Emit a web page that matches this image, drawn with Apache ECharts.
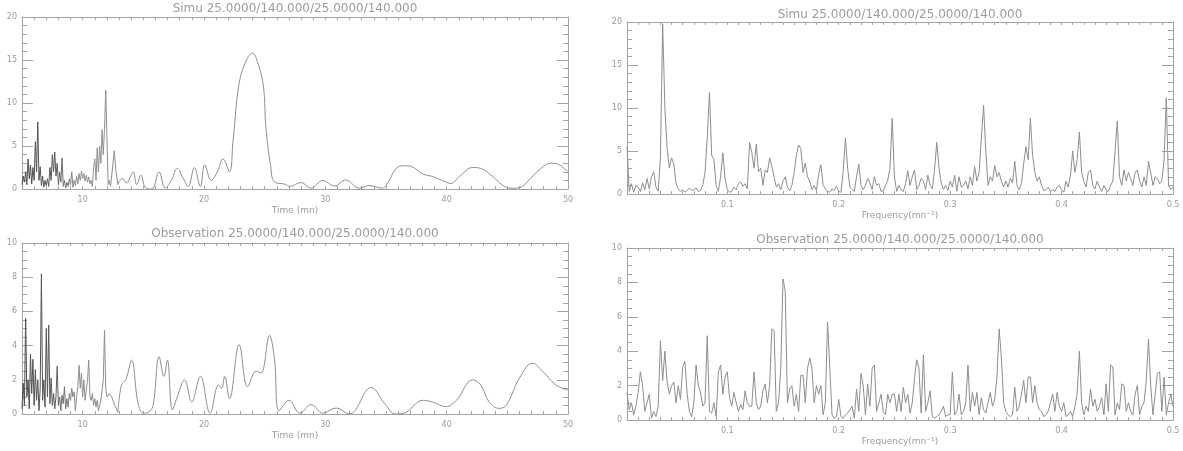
<!DOCTYPE html>
<html><head><meta charset="utf-8">
<script src="https://cdn.jsdelivr.net/npm/echarts@6/dist/echarts.min.js"></script>
<style>html,body{margin:0;padding:0;background:#fff}#c{width:1183px;height:451px}</style>
</head><body><div id="c"></div>
<script>
// ---- texts ----
const titleSimu = 'Simu 25.0000/140.000/25.0000/140.000';
const titleObs = 'Observation 25.0000/140.000/25.0000/140.000';
const timeAxisName = 'Time (mn)';
const freqAxisName = 'Frequency(mn\u207B\u00B9)';

// ---- Simu, time domain ----
const simuDenseT = [5.0,5.1,5.2,5.3,5.4,5.5,5.6,5.7,5.8,5.9,
  6.0,6.1,6.2,6.3,6.4,6.5,6.6,6.7,6.8,6.9,
  7.0,7.1,7.2,7.3,7.4,7.5,7.6,7.7,7.8,7.9,
  8.0,8.1,8.2,8.3,8.4,8.5,8.6,8.7,8.8,8.9,
  9.0,9.1,9.2,9.3,9.4,9.5,9.6,9.7,9.8,9.9,
  10.0,10.1,10.2,10.3,10.4,10.5,10.6,10.7,10.8,10.9,
  11.0,11.1,11.2,11.3,11.4,11.5,11.6,11.7,11.8,11.9,
  12.0,12.1,12.2,12.3,12.5,12.6,12.75,12.9,13.0];
const simuDenseV = [0.5,1.5,0.8,2.0,0.5,3.5,1.2,2.8,0.6,2.5,
  1.0,5.5,2.0,7.8,1.0,2.6,0.4,1.5,0.2,1.0,
  0.4,1.2,0.3,2.5,1.0,4.0,2.0,4.3,1.5,3.0,
  0.5,2.0,0.8,3.6,0.3,1.0,0.1,0.8,0.3,1.2,
  0.5,2.0,0.2,1.0,0.4,1.5,0.6,1.8,1.0,2.1,
  1.2,1.8,0.9,1.6,0.8,1.4,0.6,1.0,0.3,2.5,
  3.5,1.0,4.8,2.0,5.0,3.0,6.9,4.0,7.0,11.5,
  6.0,0.5,1.0,0.3,3.0,4.45,2.0,0.5,0.9];
const simuSmoothT = [13.0,13.3,13.6,14.16,14.45,14.8,15.2,15.7,16.3,16.8,
  17.3,17.8,18.3,18.7,19.2,19.7,20.06,20.6,21.1,21.57,
  22.1,22.4,22.9,23.5,24.0,24.45,24.9,25.1,25.5,25.8,
  26.7,27.06,28.0,28.8,29.8,30.75,31.67,32.8,33.6,34.7,
  35.2,35.84,36.5,37.1,38.03,38.85,39.7,40.36,41.05,42.15,
  42.8,43.8,44.6,45.3,46.0,46.8,47.6,48.6,49.15,50];
const simuSmoothV = [0.9,1.2,0.7,2.0,0.5,1.6,0.1,0.0,2.0,0.1,
  1.0,2.4,1.2,0.3,2.5,0.3,2.8,1.0,2.0,3.5,
  2.0,5.7,12.3,15.0,15.8,14.6,11.9,7.2,2.6,0.85,
  0.55,0.3,0.75,0.1,1.0,0.35,1.05,0.1,0.4,0.1,
  0.85,2.4,2.7,2.6,1.75,1.45,0.95,0.65,1.45,2.5,
  2.4,1.45,0.45,0.08,0.15,1.05,2.2,3.0,2.9,2.0];

// ---- Observation, time domain ----
const obsDenseT = [5.0,5.1,5.2,5.3,5.4,5.5,5.6,5.7,5.8,5.9,
  6.0,6.1,6.2,6.3,6.4,6.5,6.6,6.7,6.8,6.9,
  7.0,7.1,7.2,7.3,7.4,7.5,7.6,7.7,7.8,7.9,
  8.0,8.1,8.2,8.3,8.4,8.5,8.6,8.7,8.8,8.9,
  9.0,9.1,9.2,9.3,9.4,9.5,9.6,9.7,9.8,9.9,
  10.0,10.1,10.2,10.3,10.4,10.5,10.6,10.7,10.8,10.9,
  11.0,11.1,11.2,11.3,11.5,11.7,11.8,11.9,12.0,12.2,12.4,12.6,12.9];
const obsDenseV = [0.3,1.8,0.5,5.6,1.0,2.0,0.3,3.5,1.2,3.2,
  0.5,2.6,0.8,2.0,0.2,1.5,8.2,0.8,2.0,0.4,
  5.0,1.0,5.2,0.6,2.1,0.5,1.2,0.3,1.0,2.8,
  0.5,1.0,0.2,1.1,0.6,1.6,0.3,0.9,0.4,1.2,
  0.8,1.5,1.0,1.3,0.2,1.0,1.6,2.85,1.5,2.4,
  1.0,2.0,0.8,1.4,2.0,3.15,1.0,0.8,1.2,0.5,
  0.9,0.4,0.8,0.2,0.8,2.0,4.9,1.5,1.0,1.2,1.0,0.6,0.1];
const obsSmoothT = [12.9,13.2,13.56,14.03,14.57,15.0,15.4,15.8,16.3,16.7,
  16.98,17.4,17.8,18.4,18.98,19.7,20.5,21.2,21.45,21.7,
  22.1,22.9,23.6,24.3,24.7,25.4,25.8,26.2,27.0,27.9,
  28.84,29.8,30.9,31.98,33.78,34.9,35.8,36.5,38.03,38.85,
  39.95,40.8,42.15,42.8,43.5,44.3,44.9,46.0,47.08,47.9,
  49.0,50];
const obsSmoothV = [0.1,1.7,2.0,3.15,0.6,0.05,0.1,0.5,3.35,2.2,
  3.15,0.25,1.0,2.0,0.7,2.2,0.05,1.7,1.5,2.2,
  0.9,4.05,1.6,2.5,2.4,4.6,3.25,0.2,0.8,0.05,
  0.55,0.05,0.35,0.0,1.55,0.6,0.0,0.05,0.8,0.7,
  0.43,0.8,2.0,1.7,0.7,0.33,0.5,2.1,2.97,2.5,
  1.7,1.4];

// ---- frequency domain (sampled every freqStep from freqStart) ----
const freqStart = 0.01;
const freqStep = 0.002;
const simuFreqV = [5.5,0.3,1.2,0.2,1.0,0.8,0.3,1.3,0.5,1.8,
  0.6,2.0,2.6,0.8,0.3,4.2,19.8,10.0,5.3,3.0,
  4.2,3.5,1.2,0.6,0.3,0.5,0.2,0.4,0.7,0.4,
  0.5,0.7,0.3,0.4,1.0,2.5,6.5,11.8,4.5,4.0,
  1.0,0.3,2.0,4.8,1.8,0.5,0.2,0.3,0.8,0.5,
  1.2,1.4,0.9,1.2,0.6,6.0,4.8,3.0,5.8,2.6,
  3.0,1.0,2.8,2.5,4.2,3.2,2.0,0.8,1.2,0.5,
  1.5,2.0,0.8,0.4,1.0,2.5,4.5,5.7,5.3,2.5,
  3.6,2.0,1.5,0.5,1.0,0.4,2.3,3.4,1.0,0.6,
  0.3,0.2,0.6,0.4,0.9,0.3,0.2,2.5,6.5,3.0,
  0.8,0.5,0.3,2.0,3.5,1.0,0.5,1.0,1.8,1.3,
  0.5,2.0,1.0,1.2,0.3,0.4,1.0,1.6,3.0,8.8,
  2.0,0.3,1.0,0.5,0.3,1.2,2.7,1.0,2.0,2.8,
  0.5,1.0,1.8,1.5,0.5,2.2,1.0,0.6,2.8,6.0,
  3.0,1.3,0.5,1.0,0.4,1.5,0.8,2.2,0.3,2.0,
  0.8,1.0,1.5,0.6,2.0,1.0,3.2,1.5,2.5,6.5,
  10.3,5.0,1.0,2.0,1.5,3.3,2.0,2.5,1.5,0.8,
  1.5,0.8,1.8,1.3,3.8,1.0,0.5,1.2,3.5,5.5,
  4.0,8.8,4.5,2.5,1.5,2.0,1.0,0.4,0.5,0.8,
  0.3,0.5,0.3,0.8,1.0,0.5,0.2,1.5,0.8,2.2,
  5.0,2.5,4.0,7.2,2.5,1.5,0.8,2.5,2.8,1.0,
  0.6,1.5,0.8,0.3,1.0,0.5,0.3,1.0,1.5,5.0,
  8.5,2.0,1.0,2.8,1.5,2.5,1.8,1.0,2.5,2.8,
  1.5,0.8,2.0,1.0,3.8,2.5,1.0,2.0,1.8,1.2,
  1.5,4.0,11.2,1.0,0.5,0.8];
const obsFreqV = [1.6,0.6,1.0,0.3,0.8,1.6,2.8,2.0,0.5,1.0,
  1.5,0.1,0.5,0.2,0.8,4.6,2.3,4.0,2.2,1.5,
  2.0,2.2,1.0,2.0,1.2,3.1,3.4,1.5,0.5,0.2,
  1.0,3.2,2.0,1.6,0.8,1.0,4.9,0.5,0.4,1.0,
  0.2,2.8,3.2,1.5,2.5,2.8,1.3,0.8,1.6,1.0,
  0.5,0.9,0.6,1.7,1.0,0.8,0.8,2.8,1.0,0.6,
  0.8,1.7,2.1,1.0,2.0,5.3,5.2,0.5,1.0,3.0,
  8.2,7.5,1.0,1.8,2.0,0.8,1.5,0.5,2.6,2.6,
  1.0,3.0,3.6,3.0,1.0,2.0,1.5,2.0,0.3,1.0,
  5.7,3.0,0.3,0.1,0.2,1.2,0.2,0.1,0.3,0.4,
  0.6,0.8,0.1,1.8,0.5,2.7,2.0,0.3,2.1,0.8,
  3.0,3.2,0.5,1.0,1.5,0.5,0.3,1.5,1.0,1.5,
  1.5,0.5,1.5,0.5,1.9,1.0,1.5,0.4,1.0,2.4,
  3.5,3.0,0.4,3.8,0.5,1.0,1.7,0.2,0.1,0.2,
  0.3,0.5,0.8,0.2,0.3,0.3,2.8,0.3,0.5,1.5,
  0.3,0.5,1.0,3.2,0.5,1.6,0.8,1.6,0.3,1.3,
  0.6,0.4,1.0,1.6,0.8,1.2,2.5,5.3,3.6,1.0,
  0.5,0.3,0.2,0.3,1.9,0.5,0.8,1.5,2.3,1.0,
  2.5,2.5,1.0,2.0,1.0,0.6,0.5,0.2,0.3,0.5,
  1.0,1.5,0.5,1.6,0.8,0.5,1.0,0.2,0.3,0.5,
  0.2,0.8,1.5,4.0,1.0,0.3,0.8,0.5,1.8,0.8,
  1.2,0.5,0.8,1.3,0.3,2.1,0.5,3.2,3.1,0.3,
  1.0,0.6,2.1,2.0,0.5,1.0,0.5,0.3,1.5,2.0,
  0.3,0.8,1.0,2.3,4.7,2.0,0.3,1.5,2.7,2.8,
  0.5,2.5,0.3,1.0,1.5,0.8];

// ---- style ----
const axisColor = '#a4a4a4';
const textColor = '#9c9c9c';
const lineColor = '#8e8e8e';
const FONT = 'DejaVu Sans';

const zip = (xs, ys) => xs.map((x, i) => [x, ys[i]]);
const freqPairs = vs => vs.map((v, i) => [+(freqStart + i * freqStep).toFixed(4), v]);

const grids = [
  {left: 22, top: 17, width: 546, height: 172},
  {left: 22, top: 243, width: 546, height: 171},
  {left: 627, top: 22, width: 546, height: 172},
  {left: 627, top: 248, width: 546, height: 172}
];

function xPair(gi, min, max, step, fmt, name) {
  const base = {
    type: 'value', gridIndex: gi, min: min, max: max, interval: step,
    splitLine: {show: false},
    axisLine: {show: true, onZero: false, lineStyle: {color: axisColor, width: 1}},
    axisTick: {show: true, inside: true, length: 3, lineStyle: {color: axisColor, width: 1}}
  };
  return [
    Object.assign({}, base, {
      position: 'bottom',
      axisLabel: {show: true, color: textColor, fontSize: 8, fontFamily: FONT, margin: 7, formatter: fmt},
      name: name, nameLocation: 'middle', nameGap: 17,
      nameTextStyle: {color: textColor, fontSize: 9, fontFamily: FONT}
    }),
    Object.assign({}, base, {position: 'top', axisLabel: {show: false}})
  ];
}
function yPair(gi, max, step, minorSplit) {
  const base = {
    type: 'value', gridIndex: gi, min: 0, max: max, interval: step,
    splitLine: {show: false}, minorSplitLine: {show: false},
    axisLine: {show: true, onZero: false, lineStyle: {color: axisColor, width: 1}},
    axisTick: {show: true, inside: true, length: 11, lineStyle: {color: axisColor, width: 1}},
    minorTick: {show: true, splitNumber: minorSplit, length: 5, lineStyle: {color: axisColor, width: 1}}
  };
  return [
    Object.assign({}, base, {
      position: 'left',
      axisLabel: {show: true, color: textColor, fontSize: 8, fontFamily: FONT, margin: 5}
    }),
    Object.assign({}, base, {position: 'right', axisLabel: {show: false}})
  ];
}
const timeFmt = v => (Math.abs(v % 10) < 1e-6 ? String(Math.round(v)) : '');
const freqFmt = v => (Math.abs(v * 10 - Math.round(v * 10)) < 1e-6 ? (Math.round(v * 10) / 10).toFixed(1) : '');

const xAxes = [].concat(
  xPair(0, 5, 50, 1, timeFmt, timeAxisName),
  xPair(1, 5, 50, 1, timeFmt, timeAxisName),
  xPair(2, 0.01, 0.5, 0.01, freqFmt, freqAxisName),
  xPair(3, 0.01, 0.5, 0.01, freqFmt, freqAxisName)
);
const yAxes = [].concat(
  yPair(0, 20, 5, 5),
  yPair(1, 10, 2, 4),
  yPair(2, 20, 5, 5),
  yPair(3, 10, 2, 4)
);

function titleAt(text, cx, top) {
  return {text: text, left: cx, top: top, textAlign: 'center', padding: 0,
    textStyle: {fontSize: 12, fontWeight: 'normal', color: textColor, fontFamily: FONT}};
}

function lineSeries(axisIdx, data, color, smooth) {
  return {
    type: 'line', xAxisIndex: axisIdx * 2, yAxisIndex: axisIdx * 2, data: data,
    showSymbol: false, symbol: 'none', smooth: smooth, clip: true,
    lineStyle: {color: color, width: 1}, emphasis: {disabled: true}
  };
}
const denseColor = () => new echarts.graphic.LinearGradient(0, 0, 1, 0, [
  {offset: 0, color: '#4a4a4a'}, {offset: 0.35, color: '#5a5a5a'}, {offset: 0.55, color: '#8e8e8e'}, {offset: 1, color: '#8e8e8e'}
]);

const chart = echarts.init(document.getElementById('c'), null, {renderer: 'canvas'});
chart.setOption({
  animation: false,
  backgroundColor: '#ffffff',
  title: [
    titleAt(titleSimu, 295, 3),
    titleAt(titleObs, 295, 228),
    titleAt(titleSimu, 900, 9),
    titleAt(titleObs, 900, 234)
  ],
  grid: grids,
  xAxis: xAxes,
  yAxis: yAxes,
  series: [
    lineSeries(0, zip(simuDenseT, simuDenseV), denseColor(), false),
    lineSeries(0, zip(simuSmoothT, simuSmoothV), lineColor, 0.4),
    lineSeries(1, zip(obsDenseT, obsDenseV), denseColor(), false),
    lineSeries(1, zip(obsSmoothT, obsSmoothV), lineColor, 0.4),
    lineSeries(2, freqPairs(simuFreqV), lineColor, false),
    lineSeries(3, freqPairs(obsFreqV), lineColor, false)
  ]
});
</script>
</body></html>
